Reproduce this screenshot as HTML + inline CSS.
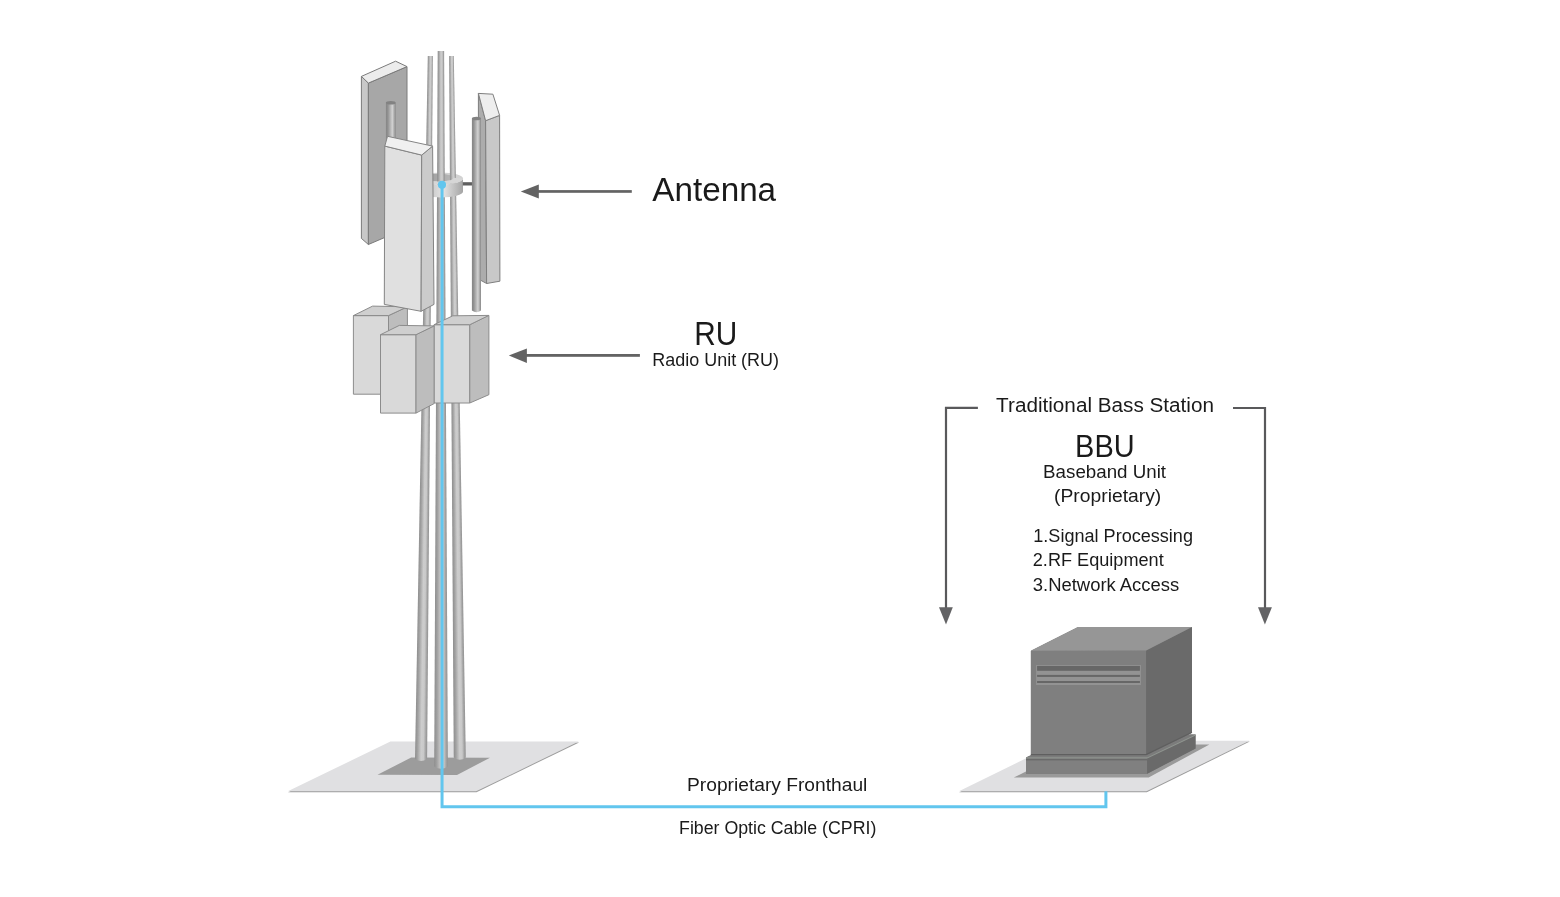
<!DOCTYPE html>
<html>
<head>
<meta charset="utf-8">
<style>
html,body{margin:0;padding:0;background:#fff;width:1560px;height:897px;overflow:hidden;}
svg{display:block;will-change:transform;}
text{font-family:"Liberation Sans",sans-serif;fill:#1a1a1a;}
</style>
</head>
<body>
<svg width="1560" height="897" viewBox="0 0 1560 897">
<defs>
  <linearGradient id="mast" x1="0" y1="0" x2="1" y2="0">
    <stop offset="0" stop-color="#8e8e8e"/>
    <stop offset="0.2" stop-color="#a2a2a2"/>
    <stop offset="0.5" stop-color="#cdcdcd"/>
    <stop offset="0.7" stop-color="#c9c9c9"/>
    <stop offset="0.88" stop-color="#a2a2a2"/>
    <stop offset="1" stop-color="#929292"/>
  </linearGradient>
  <linearGradient id="pole" x1="0" y1="0" x2="1" y2="0">
    <stop offset="0" stop-color="#858585"/>
    <stop offset="0.2" stop-color="#919191"/>
    <stop offset="0.66" stop-color="#d2d2d2"/>
    <stop offset="0.88" stop-color="#a2a2a2"/>
    <stop offset="1" stop-color="#898989"/>
  </linearGradient>
  <linearGradient id="ringside" x1="0" y1="0" x2="1" y2="0">
    <stop offset="0" stop-color="#b0b0b0"/>
    <stop offset="0.55" stop-color="#e4e4e4"/>
    <stop offset="1" stop-color="#a4a4a4"/>
  </linearGradient>
  <linearGradient id="ringhole" x1="0" y1="0" x2="1" y2="0">
    <stop offset="0" stop-color="#9a9a9a"/>
    <stop offset="1" stop-color="#b8b8b8"/>
  </linearGradient>
  <filter id="soft2" x="-5%" y="-20%" width="110%" height="140%"><feGaussianBlur stdDeviation="0.5"/></filter>
  <filter id="soft" x="-5%" y="-20%" width="110%" height="140%"><feGaussianBlur stdDeviation="0.6"/></filter>
</defs>

<!-- platforms -->
<polygon points="287.8,791.3 390.4,741.5 578.8,741.5 476.2,791.3" fill="#9c9c9c" transform="translate(0.3,0.9)" filter="url(#soft2)"/>
<polygon points="287.8,791.3 390.4,741.5 578.8,741.5 476.2,791.3" fill="#e0e0e2"/>
<polygon points="377.5,774.8 411.2,757.5 490,757.7 457,775" fill="#9c9c9c" filter="url(#soft)"/>

<polygon points="958.9,791.3 1062,740.7 1249.5,740.7 1146.5,791.3" fill="#9c9c9c" transform="translate(0.3,0.9)" filter="url(#soft2)"/>
<polygon points="958.9,791.3 1062,740.7 1249.5,740.7 1146.5,791.3" fill="#e0e0e2"/>

<!-- ring back (top face + hole) -->
<ellipse cx="441" cy="178.5" rx="22" ry="6" fill="#d2d2d2"/>
<ellipse cx="438.5" cy="177.7" rx="15" ry="3.9" fill="url(#ringhole)"/>
<!-- masts -->
<g fill="url(#mast)">
<polygon points="427.80,56 432.90,56 432.83,64 427.65,64"/>
<polygon points="427.65,64 432.83,64 432.77,72 427.51,72"/>
<polygon points="427.51,72 432.77,72 432.70,80 427.36,80"/>
<polygon points="427.36,80 432.70,80 432.64,88 427.22,88"/>
<polygon points="427.22,88 432.64,88 432.57,96 427.07,96"/>
<polygon points="427.07,96 432.57,96 432.50,104 426.93,104"/>
<polygon points="426.93,104 432.50,104 432.44,112 426.78,112"/>
<polygon points="426.78,112 432.44,112 432.37,120 426.63,120"/>
<polygon points="426.63,120 432.37,120 432.31,128 426.49,128"/>
<polygon points="426.49,128 432.31,128 432.24,136 426.34,136"/>
<polygon points="426.34,136 432.24,136 432.17,144 426.20,144"/>
<polygon points="426.20,144 432.17,144 432.11,152 426.05,152"/>
<polygon points="426.05,152 432.11,152 432.04,160 425.91,160"/>
<polygon points="425.91,160 432.04,160 431.98,168 425.76,168"/>
<polygon points="425.76,168 431.98,168 431.91,176 425.62,176"/>
<polygon points="425.62,176 431.91,176 431.84,184 425.47,184"/>
<polygon points="425.47,184 431.84,184 431.78,192 425.32,192"/>
<polygon points="425.32,192 431.78,192 431.71,200 425.18,200"/>
<polygon points="425.18,200 431.71,200 431.65,208 425.03,208"/>
<polygon points="425.03,208 431.65,208 431.58,216 424.89,216"/>
<polygon points="424.89,216 431.58,216 431.51,224 424.74,224"/>
<polygon points="424.74,224 431.51,224 431.45,232 424.60,232"/>
<polygon points="424.60,232 431.45,232 431.38,240 424.45,240"/>
<polygon points="424.45,240 431.38,240 431.32,248 424.30,248"/>
<polygon points="424.30,248 431.32,248 431.25,256 424.16,256"/>
<polygon points="424.16,256 431.25,256 431.18,264 424.01,264"/>
<polygon points="424.01,264 431.18,264 431.12,272 423.87,272"/>
<polygon points="423.87,272 431.12,272 431.05,280 423.72,280"/>
<polygon points="423.72,280 431.05,280 430.99,288 423.58,288"/>
<polygon points="423.58,288 430.99,288 430.92,296 423.43,296"/>
<polygon points="423.43,296 430.92,296 430.85,304 423.28,304"/>
<polygon points="423.28,304 430.85,304 430.79,312 423.14,312"/>
<polygon points="423.14,312 430.79,312 430.72,320 422.99,320"/>
<polygon points="422.99,320 430.72,320 430.66,328 422.85,328"/>
<polygon points="422.85,328 430.66,328 430.59,336 422.70,336"/>
<polygon points="422.70,336 430.59,336 430.52,344 422.56,344"/>
<polygon points="422.56,344 430.52,344 430.46,352 422.41,352"/>
<polygon points="422.41,352 430.46,352 430.39,360 422.26,360"/>
<polygon points="422.26,360 430.39,360 430.33,368 422.12,368"/>
<polygon points="422.12,368 430.33,368 430.26,376 421.97,376"/>
<polygon points="421.97,376 430.26,376 430.19,384 421.83,384"/>
<polygon points="421.83,384 430.19,384 430.13,392 421.68,392"/>
<polygon points="421.68,392 430.13,392 430.06,400 421.54,400"/>
<polygon points="421.54,400 430.06,400 430.00,408 421.39,408"/>
<polygon points="421.39,408 430.00,408 429.93,416 421.25,416"/>
<polygon points="421.25,416 429.93,416 429.86,424 421.10,424"/>
<polygon points="421.10,424 429.86,424 429.80,432 420.95,432"/>
<polygon points="420.95,432 429.80,432 429.73,440 420.81,440"/>
<polygon points="420.81,440 429.73,440 429.67,448 420.66,448"/>
<polygon points="420.66,448 429.67,448 429.60,456 420.52,456"/>
<polygon points="420.52,456 429.60,456 429.53,464 420.37,464"/>
<polygon points="420.37,464 429.53,464 429.47,472 420.23,472"/>
<polygon points="420.23,472 429.47,472 429.40,480 420.08,480"/>
<polygon points="420.08,480 429.40,480 429.34,488 419.93,488"/>
<polygon points="419.93,488 429.34,488 429.27,496 419.79,496"/>
<polygon points="419.79,496 429.27,496 429.20,504 419.64,504"/>
<polygon points="419.64,504 429.20,504 429.14,512 419.50,512"/>
<polygon points="419.50,512 429.14,512 429.07,520 419.35,520"/>
<polygon points="419.35,520 429.07,520 429.01,528 419.21,528"/>
<polygon points="419.21,528 429.01,528 428.94,536 419.06,536"/>
<polygon points="419.06,536 428.94,536 428.87,544 418.91,544"/>
<polygon points="418.91,544 428.87,544 428.81,552 418.77,552"/>
<polygon points="418.77,552 428.81,552 428.74,560 418.62,560"/>
<polygon points="418.62,560 428.74,560 428.68,568 418.48,568"/>
<polygon points="418.48,568 428.68,568 428.61,576 418.33,576"/>
<polygon points="418.33,576 428.61,576 428.54,584 418.19,584"/>
<polygon points="418.19,584 428.54,584 428.48,592 418.04,592"/>
<polygon points="418.04,592 428.48,592 428.41,600 417.90,600"/>
<polygon points="417.90,600 428.41,600 428.35,608 417.75,608"/>
<polygon points="417.75,608 428.35,608 428.28,616 417.60,616"/>
<polygon points="417.60,616 428.28,616 428.21,624 417.46,624"/>
<polygon points="417.46,624 428.21,624 428.15,632 417.31,632"/>
<polygon points="417.31,632 428.15,632 428.08,640 417.17,640"/>
<polygon points="417.17,640 428.08,640 428.02,648 417.02,648"/>
<polygon points="417.02,648 428.02,648 427.95,656 416.88,656"/>
<polygon points="416.88,656 427.95,656 427.88,664 416.73,664"/>
<polygon points="416.73,664 427.88,664 427.82,672 416.58,672"/>
<polygon points="416.58,672 427.82,672 427.75,680 416.44,680"/>
<polygon points="416.44,680 427.75,680 427.69,688 416.29,688"/>
<polygon points="416.29,688 427.69,688 427.62,696 416.15,696"/>
<polygon points="416.15,696 427.62,696 427.55,704 416.00,704"/>
<polygon points="416.00,704 427.55,704 427.49,712 415.86,712"/>
<polygon points="415.86,712 427.49,712 427.42,720 415.71,720"/>
<polygon points="415.71,720 427.42,720 427.36,728 415.56,728"/>
<polygon points="415.56,728 427.36,728 427.29,736 415.42,736"/>
<polygon points="415.42,736 427.29,736 427.22,744 415.27,744"/>
<polygon points="415.27,744 427.22,744 427.16,752 415.13,752"/>
<path d="M415.13,752 L427.16,752 L427.10,759 Q421.05,763.00 415.00,759 Z"/>
<polygon points="437.70,51 444.10,51 444.13,56 437.68,56"/>
<polygon points="437.68,56 444.13,56 444.17,64 437.64,64"/>
<polygon points="437.64,64 444.17,64 444.21,72 437.60,72"/>
<polygon points="437.60,72 444.21,72 444.25,80 437.56,80"/>
<polygon points="437.56,80 444.25,80 444.30,88 437.52,88"/>
<polygon points="437.52,88 444.30,88 444.34,96 437.48,96"/>
<polygon points="437.48,96 444.34,96 444.38,104 437.44,104"/>
<polygon points="437.44,104 444.38,104 444.42,112 437.40,112"/>
<polygon points="437.40,112 444.42,112 444.47,120 437.36,120"/>
<polygon points="437.36,120 444.47,120 444.51,128 437.32,128"/>
<polygon points="437.32,128 444.51,128 444.55,136 437.28,136"/>
<polygon points="437.28,136 444.55,136 444.59,144 437.25,144"/>
<polygon points="437.25,144 444.59,144 444.64,152 437.21,152"/>
<polygon points="437.21,152 444.64,152 444.68,160 437.17,160"/>
<polygon points="437.17,160 444.68,160 444.72,168 437.13,168"/>
<polygon points="437.13,168 444.72,168 444.76,176 437.09,176"/>
<polygon points="437.09,176 444.76,176 444.81,184 437.05,184"/>
<polygon points="437.05,184 444.81,184 444.85,192 437.01,192"/>
<polygon points="437.01,192 444.85,192 444.89,200 436.97,200"/>
<polygon points="436.97,200 444.89,200 444.93,208 436.93,208"/>
<polygon points="436.93,208 444.93,208 444.98,216 436.89,216"/>
<polygon points="436.89,216 444.98,216 445.02,224 436.85,224"/>
<polygon points="436.85,224 445.02,224 445.06,232 436.81,232"/>
<polygon points="436.81,232 445.06,232 445.10,240 436.78,240"/>
<polygon points="436.78,240 445.10,240 445.15,248 436.74,248"/>
<polygon points="436.74,248 445.15,248 445.19,256 436.70,256"/>
<polygon points="436.70,256 445.19,256 445.23,264 436.66,264"/>
<polygon points="436.66,264 445.23,264 445.27,272 436.62,272"/>
<polygon points="436.62,272 445.27,272 445.32,280 436.58,280"/>
<polygon points="436.58,280 445.32,280 445.36,288 436.54,288"/>
<polygon points="436.54,288 445.36,288 445.40,296 436.50,296"/>
<polygon points="436.50,296 445.40,296 445.44,304 436.46,304"/>
<polygon points="436.46,304 445.44,304 445.49,312 436.42,312"/>
<polygon points="436.42,312 445.49,312 445.53,320 436.38,320"/>
<polygon points="436.38,320 445.53,320 445.57,328 436.35,328"/>
<polygon points="436.35,328 445.57,328 445.61,336 436.31,336"/>
<polygon points="436.31,336 445.61,336 445.66,344 436.27,344"/>
<polygon points="436.27,344 445.66,344 445.70,352 436.23,352"/>
<polygon points="436.23,352 445.70,352 445.74,360 436.19,360"/>
<polygon points="436.19,360 445.74,360 445.78,368 436.15,368"/>
<polygon points="436.15,368 445.78,368 445.83,376 436.11,376"/>
<polygon points="436.11,376 445.83,376 445.87,384 436.07,384"/>
<polygon points="436.07,384 445.87,384 445.91,392 436.03,392"/>
<polygon points="436.03,392 445.91,392 445.95,400 435.99,400"/>
<polygon points="435.99,400 445.95,400 446.00,408 435.95,408"/>
<polygon points="435.95,408 446.00,408 446.04,416 435.91,416"/>
<polygon points="435.91,416 446.04,416 446.08,424 435.88,424"/>
<polygon points="435.88,424 446.08,424 446.12,432 435.84,432"/>
<polygon points="435.84,432 446.12,432 446.17,440 435.80,440"/>
<polygon points="435.80,440 446.17,440 446.21,448 435.76,448"/>
<polygon points="435.76,448 446.21,448 446.25,456 435.72,456"/>
<polygon points="435.72,456 446.25,456 446.29,464 435.68,464"/>
<polygon points="435.68,464 446.29,464 446.34,472 435.64,472"/>
<polygon points="435.64,472 446.34,472 446.38,480 435.60,480"/>
<polygon points="435.60,480 446.38,480 446.42,488 435.56,488"/>
<polygon points="435.56,488 446.42,488 446.46,496 435.52,496"/>
<polygon points="435.52,496 446.46,496 446.51,504 435.48,504"/>
<polygon points="435.48,504 446.51,504 446.55,512 435.44,512"/>
<polygon points="435.44,512 446.55,512 446.59,520 435.41,520"/>
<polygon points="435.41,520 446.59,520 446.63,528 435.37,528"/>
<polygon points="435.37,528 446.63,528 446.68,536 435.33,536"/>
<polygon points="435.33,536 446.68,536 446.72,544 435.29,544"/>
<polygon points="435.29,544 446.72,544 446.76,552 435.25,552"/>
<polygon points="435.25,552 446.76,552 446.80,560 435.21,560"/>
<polygon points="435.21,560 446.80,560 446.85,568 435.17,568"/>
<polygon points="435.17,568 446.85,568 446.89,576 435.13,576"/>
<polygon points="435.13,576 446.89,576 446.93,584 435.09,584"/>
<polygon points="435.09,584 446.93,584 446.97,592 435.05,592"/>
<polygon points="435.05,592 446.97,592 447.02,600 435.01,600"/>
<polygon points="435.01,600 447.02,600 447.06,608 434.98,608"/>
<polygon points="434.98,608 447.06,608 447.10,616 434.94,616"/>
<polygon points="434.94,616 447.10,616 447.14,624 434.90,624"/>
<polygon points="434.90,624 447.14,624 447.19,632 434.86,632"/>
<polygon points="434.86,632 447.19,632 447.23,640 434.82,640"/>
<polygon points="434.82,640 447.23,640 447.27,648 434.78,648"/>
<polygon points="434.78,648 447.27,648 447.31,656 434.74,656"/>
<polygon points="434.74,656 447.31,656 447.36,664 434.70,664"/>
<polygon points="434.70,664 447.36,664 447.40,672 434.66,672"/>
<polygon points="434.66,672 447.40,672 447.44,680 434.62,680"/>
<polygon points="434.62,680 447.44,680 447.48,688 434.58,688"/>
<polygon points="434.58,688 447.48,688 447.53,696 434.54,696"/>
<polygon points="434.54,696 447.53,696 447.57,704 434.51,704"/>
<polygon points="434.51,704 447.57,704 447.61,712 434.47,712"/>
<polygon points="434.47,712 447.61,712 447.65,720 434.43,720"/>
<polygon points="434.43,720 447.65,720 447.70,728 434.39,728"/>
<polygon points="434.39,728 447.70,728 447.74,736 434.35,736"/>
<polygon points="434.35,736 447.74,736 447.78,744 434.31,744"/>
<polygon points="434.31,744 447.78,744 447.82,752 434.27,752"/>
<polygon points="434.27,752 447.82,752 447.87,760 434.23,760"/>
<path d="M434.23,760 L447.87,760 L447.90,766.5 Q441.05,771.00 434.20,766.5 Z"/>
<polygon points="449.10,56 453.80,56 453.94,64 449.15,64"/>
<polygon points="449.15,64 453.94,64 454.07,72 449.21,72"/>
<polygon points="449.21,72 454.07,72 454.21,80 449.26,80"/>
<polygon points="449.26,80 454.21,80 454.35,88 449.31,88"/>
<polygon points="449.31,88 454.35,88 454.48,96 449.37,96"/>
<polygon points="449.37,96 454.48,96 454.62,104 449.42,104"/>
<polygon points="449.42,104 454.62,104 454.76,112 449.47,112"/>
<polygon points="449.47,112 454.76,112 454.89,120 449.52,120"/>
<polygon points="449.52,120 454.89,120 455.03,128 449.58,128"/>
<polygon points="449.58,128 455.03,128 455.17,136 449.63,136"/>
<polygon points="449.63,136 455.17,136 455.31,144 449.68,144"/>
<polygon points="449.68,144 455.31,144 455.44,152 449.74,152"/>
<polygon points="449.74,152 455.44,152 455.58,160 449.79,160"/>
<polygon points="449.79,160 455.58,160 455.72,168 449.84,168"/>
<polygon points="449.84,168 455.72,168 455.85,176 449.90,176"/>
<polygon points="449.90,176 455.85,176 455.99,184 449.95,184"/>
<polygon points="449.95,184 455.99,184 456.13,192 450.00,192"/>
<polygon points="450.00,192 456.13,192 456.26,200 450.05,200"/>
<polygon points="450.05,200 456.26,200 456.40,208 450.11,208"/>
<polygon points="450.11,208 456.40,208 456.54,216 450.16,216"/>
<polygon points="450.16,216 456.54,216 456.67,224 450.21,224"/>
<polygon points="450.21,224 456.67,224 456.81,232 450.27,232"/>
<polygon points="450.27,232 456.81,232 456.95,240 450.32,240"/>
<polygon points="450.32,240 456.95,240 457.08,248 450.37,248"/>
<polygon points="450.37,248 457.08,248 457.22,256 450.43,256"/>
<polygon points="450.43,256 457.22,256 457.36,264 450.48,264"/>
<polygon points="450.48,264 457.36,264 457.49,272 450.53,272"/>
<polygon points="450.53,272 457.49,272 457.63,280 450.58,280"/>
<polygon points="450.58,280 457.63,280 457.77,288 450.64,288"/>
<polygon points="450.64,288 457.77,288 457.91,296 450.69,296"/>
<polygon points="450.69,296 457.91,296 458.04,304 450.74,304"/>
<polygon points="450.74,304 458.04,304 458.18,312 450.80,312"/>
<polygon points="450.80,312 458.18,312 458.32,320 450.85,320"/>
<polygon points="450.85,320 458.32,320 458.45,328 450.90,328"/>
<polygon points="450.90,328 458.45,328 458.59,336 450.96,336"/>
<polygon points="450.96,336 458.59,336 458.73,344 451.01,344"/>
<polygon points="451.01,344 458.73,344 458.86,352 451.06,352"/>
<polygon points="451.06,352 458.86,352 459.00,360 451.12,360"/>
<polygon points="451.12,360 459.00,360 459.14,368 451.17,368"/>
<polygon points="451.17,368 459.14,368 459.27,376 451.22,376"/>
<polygon points="451.22,376 459.27,376 459.41,384 451.27,384"/>
<polygon points="451.27,384 459.41,384 459.55,392 451.33,392"/>
<polygon points="451.33,392 459.55,392 459.68,400 451.38,400"/>
<polygon points="451.38,400 459.68,400 459.82,408 451.43,408"/>
<polygon points="451.43,408 459.82,408 459.96,416 451.49,416"/>
<polygon points="451.49,416 459.96,416 460.10,424 451.54,424"/>
<polygon points="451.54,424 460.10,424 460.23,432 451.59,432"/>
<polygon points="451.59,432 460.23,432 460.37,440 451.65,440"/>
<polygon points="451.65,440 460.37,440 460.51,448 451.70,448"/>
<polygon points="451.70,448 460.51,448 460.64,456 451.75,456"/>
<polygon points="451.75,456 460.64,456 460.78,464 451.80,464"/>
<polygon points="451.80,464 460.78,464 460.92,472 451.86,472"/>
<polygon points="451.86,472 460.92,472 461.05,480 451.91,480"/>
<polygon points="451.91,480 461.05,480 461.19,488 451.96,488"/>
<polygon points="451.96,488 461.19,488 461.33,496 452.02,496"/>
<polygon points="452.02,496 461.33,496 461.46,504 452.07,504"/>
<polygon points="452.07,504 461.46,504 461.60,512 452.12,512"/>
<polygon points="452.12,512 461.60,512 461.74,520 452.18,520"/>
<polygon points="452.18,520 461.74,520 461.87,528 452.23,528"/>
<polygon points="452.23,528 461.87,528 462.01,536 452.28,536"/>
<polygon points="452.28,536 462.01,536 462.15,544 452.33,544"/>
<polygon points="452.33,544 462.15,544 462.28,552 452.39,552"/>
<polygon points="452.39,552 462.28,552 462.42,560 452.44,560"/>
<polygon points="452.44,560 462.42,560 462.56,568 452.49,568"/>
<polygon points="452.49,568 462.56,568 462.70,576 452.55,576"/>
<polygon points="452.55,576 462.70,576 462.83,584 452.60,584"/>
<polygon points="452.60,584 462.83,584 462.97,592 452.65,592"/>
<polygon points="452.65,592 462.97,592 463.11,600 452.71,600"/>
<polygon points="452.71,600 463.11,600 463.24,608 452.76,608"/>
<polygon points="452.76,608 463.24,608 463.38,616 452.81,616"/>
<polygon points="452.81,616 463.38,616 463.52,624 452.87,624"/>
<polygon points="452.87,624 463.52,624 463.65,632 452.92,632"/>
<polygon points="452.92,632 463.65,632 463.79,640 452.97,640"/>
<polygon points="452.97,640 463.79,640 463.93,648 453.02,648"/>
<polygon points="453.02,648 463.93,648 464.06,656 453.08,656"/>
<polygon points="453.08,656 464.06,656 464.20,664 453.13,664"/>
<polygon points="453.13,664 464.20,664 464.34,672 453.18,672"/>
<polygon points="453.18,672 464.34,672 464.47,680 453.24,680"/>
<polygon points="453.24,680 464.47,680 464.61,688 453.29,688"/>
<polygon points="453.29,688 464.61,688 464.75,696 453.34,696"/>
<polygon points="453.34,696 464.75,696 464.88,704 453.40,704"/>
<polygon points="453.40,704 464.88,704 465.02,712 453.45,712"/>
<polygon points="453.45,712 465.02,712 465.16,720 453.50,720"/>
<polygon points="453.50,720 465.16,720 465.30,728 453.55,728"/>
<polygon points="453.55,728 465.30,728 465.43,736 453.61,736"/>
<polygon points="453.61,736 465.43,736 465.57,744 453.66,744"/>
<polygon points="453.66,744 465.57,744 465.71,752 453.71,752"/>
<path d="M453.71,752 L465.71,752 L465.80,757.5 Q459.77,762.00 453.75,757.5 Z"/>
</g>

<!-- ring front band -->
<path d="M419,178.5 A22,6 0 0 0 463,178.5 L463,191.5 A22,6 0 0 1 419,191.5 Z" fill="url(#ringside)"/>
<path d="M419,178.5 A22,6 0 0 0 463,178.5 L453.5,177.7 A15,3.9 0 0 1 423.5,177.7 Z" fill="#d6d6d6"/>
<!-- connector bar -->
<rect x="462.8" y="182.2" width="9.5" height="3.3" fill="#5f5f5f"/>

<!-- back-left antenna -->
<polygon points="361.4,76.4 368.4,83.1 368.4,244.5 361.4,238.4" fill="#c8c8c8" stroke="#7a7a7a" stroke-width="1" stroke-linejoin="round"/>
<polygon points="368.4,83.1 407,66.6 407,227.9 368.4,244.5" fill="#a7a7a7" stroke="#7a7a7a" stroke-width="1" stroke-linejoin="round"/>
<polygon points="361.4,76.4 395.6,61.2 407,66.6 368.4,83.1" fill="#ececec" stroke="#7a7a7a" stroke-width="1" stroke-linejoin="round"/>
<!-- small pole in back antenna -->
<rect x="385.9" y="102.7" width="9.8" height="40" fill="url(#pole)"/>
<ellipse cx="390.8" cy="102.7" rx="4.9" ry="1.8" fill="#828282"/>

<!-- right antenna -->
<polygon points="478.4,93.4 485.6,120.7 486.6,283.5 478.4,279" fill="#acacac" stroke="#7e7e7e" stroke-width="1" stroke-linejoin="round"/>
<polygon points="485.6,120.7 499.6,115.4 499.9,281.2 486.6,283.5" fill="#c8c8c8" stroke="#7e7e7e" stroke-width="1" stroke-linejoin="round"/>
<polygon points="478.4,93.4 492.9,94.2 499.6,115.4 485.6,120.7" fill="#eeeeee" stroke="#7e7e7e" stroke-width="1" stroke-linejoin="round"/>
<!-- right pole -->
<path d="M471.9,118.5 L481,118.5 L481,310.5 Q476.45,314 471.9,310.5 Z" fill="url(#pole)"/>
<ellipse cx="476.45" cy="118.5" rx="4.55" ry="1.8" fill="#828282"/>

<!-- RU box 1 -->
<polygon points="353.4,315.6 388.5,315.6 388.5,394.2 353.4,394.2" fill="#d9d9d9" stroke="#8c8c8c" stroke-width="1"/>
<polygon points="388.5,315.6 407.4,306.8 407.4,385.5 388.5,394.2" fill="#bdbdbd" stroke="#8c8c8c" stroke-width="1" stroke-linejoin="round"/>
<polygon points="353.4,315.6 372.6,306.1 407.4,306.8 388.5,315.6" fill="#cfcfcf" stroke="#8c8c8c" stroke-width="1" stroke-linejoin="round"/>
<!-- front antenna -->
<polygon points="384.8,146.1 421.7,155.1 421.1,311.3 384.3,304.4" fill="#e0e0e0" stroke="#848484" stroke-width="1" stroke-linejoin="round"/>
<polygon points="421.7,155.1 432.6,146.1 434,304.4 421.1,311.3" fill="#cbcbcb" stroke="#848484" stroke-width="1" stroke-linejoin="round"/>
<polygon points="387.5,136.3 432.6,146.1 421.7,155.1 384.8,146.1" fill="#f0f0f0" stroke="#848484" stroke-width="1" stroke-linejoin="round"/>

<!-- RU box 3 -->
<polygon points="434,324.7 469.8,324.7 469.8,403 434,403" fill="#d9d9d9" stroke="#8c8c8c" stroke-width="1"/>
<polygon points="469.8,324.7 488.9,315.4 488.9,394.7 469.8,403" fill="#bdbdbd" stroke="#8c8c8c" stroke-width="1" stroke-linejoin="round"/>
<polygon points="434,324.7 452.8,315.8 488.9,315.4 469.8,324.7" fill="#cfcfcf" stroke="#8c8c8c" stroke-width="1" stroke-linejoin="round"/>
<!-- RU box 2 -->
<polygon points="380.5,334.7 416,334.7 416,413.1 380.5,413.1" fill="#d9d9d9" stroke="#8c8c8c" stroke-width="1"/>
<polygon points="416,334.7 434.1,325.9 434.1,403.6 416,413.1" fill="#bdbdbd" stroke="#8c8c8c" stroke-width="1" stroke-linejoin="round"/>
<polygon points="380.5,334.7 399.3,325.4 434.1,325.9 416,334.7" fill="#cfcfcf" stroke="#8c8c8c" stroke-width="1" stroke-linejoin="round"/>

<!-- fiber -->
<polyline points="442.05,185 442.05,806.8 1105.9,806.8 1105.9,791.3" fill="none" stroke="#62c6ee" stroke-width="3"/>
<circle cx="441.95" cy="184.8" r="4.1" fill="#62c6ee"/>

<!-- BBU -->
<polygon points="1013.8,777.5 1080,744.4 1209.4,744.4 1148.7,777.5" fill="#9a9a9a" filter="url(#soft)"/>
<polygon points="1026,757.4 1075,734.4 1195.5,734.4 1195.5,748.4 1147.1,773.8 1026,773.8" fill="#747474"/>
<polygon points="1026,757.4 1147.1,757.4 1147.1,773.8 1026,773.8" fill="#808080"/>
<polygon points="1147.1,757.4 1195.5,734.4 1195.5,748.4 1147.1,773.8" fill="#6a6a6a"/>
<polygon points="1026,757.4 1075,734.4 1195.5,734.4 1147.1,757.4" fill="#7b7b7b"/>
<rect x="1026" y="758.5" width="121.1" height="1.9" fill="#6a6a6a"/>
<polyline points="1026,757.9 1147.1,757.9 1195.5,734.9" fill="none" stroke="#8f948f" stroke-width="1.1"/>
<polygon points="1030.9,650.8 1078,627.1 1192,627 1192,732.7 1146.1,755.1 1030.9,755.1" fill="#7a7a7a"/>
<polygon points="1030.9,650.8 1146.1,650.6 1146.1,755.1 1030.9,755.1" fill="#7f7f7f"/>
<polygon points="1146.1,650.6 1192,627 1192,732.7 1146.1,755.1" fill="#6a6a6a"/>
<polygon points="1030.9,650.8 1078,627.1 1192,627 1146.1,650.6" fill="#969696"/>
<polyline points="1030.9,754.6 1146.1,754.6 1192,732.2" fill="none" stroke="#5f5f5f" stroke-width="1.1"/>
<rect x="1036.1" y="665" width="104.8" height="20" fill="#939393"/>
<rect x="1037.1" y="665.9" width="102.8" height="4.9" fill="#676767"/>
<rect x="1037.1" y="674.9" width="102.8" height="2" fill="#676767"/>
<rect x="1037.1" y="681" width="102.8" height="2" fill="#676767"/>

<!-- arrows -->
<g fill="#636363">
<polygon points="520.8,191.5 538.8,184.6 538.8,198.6"/>
<rect x="538" y="190.1" width="93.8" height="2.7"/>
<polygon points="508.8,355.4 526.9,348.5 526.9,362.9"/>
<rect x="526" y="354" width="113.9" height="2.8"/>
</g>
<g fill="none" stroke="#59595b" stroke-width="2.2">
<polyline points="977.9,407.9 946,407.9 946,608"/>
<polyline points="1233,408 1265,408 1265,608"/>
</g>
<g fill="#636365">
<polygon points="939,607.3 952.8,607.3 946,624.4"/>
<polygon points="1258,607.3 1271.9,607.3 1264.9,624.4"/>
</g>

<!-- texts -->
<text x="652.27" y="200.9" font-size="33.2" textLength="123.86" lengthAdjust="spacingAndGlyphs">Antenna</text>
<text x="694.33" y="344.8" font-size="33.2" textLength="43.04" lengthAdjust="spacingAndGlyphs">RU</text>
<text x="652.25" y="365.8" font-size="18.7" textLength="126.79" lengthAdjust="spacingAndGlyphs">Radio Unit (RU)</text>
<text x="996.11" y="411.8" font-size="20.75" textLength="217.88" lengthAdjust="spacingAndGlyphs">Traditional Bass Station</text>
<text x="1075.11" y="456.9" font-size="30.6" textLength="59.54" lengthAdjust="spacingAndGlyphs">BBU</text>
<text x="1043.10" y="478" font-size="18.7" textLength="122.99" lengthAdjust="spacingAndGlyphs">Baseband Unit</text>
<text x="1054.08" y="502" font-size="18.7" textLength="107.14" lengthAdjust="spacingAndGlyphs">(Proprietary)</text>
<text x="1033.30" y="541.9" font-size="18.7" textLength="159.67" lengthAdjust="spacingAndGlyphs">1.Signal Processing</text>
<text x="1032.80" y="565.9" font-size="18.7" textLength="130.93" lengthAdjust="spacingAndGlyphs">2.RF Equipment</text>
<text x="1032.80" y="590.6" font-size="18.7" textLength="146.42" lengthAdjust="spacingAndGlyphs">3.Network Access</text>
<text x="687.03" y="790.9" font-size="18.7" textLength="180.35" lengthAdjust="spacingAndGlyphs">Proprietary Fronthaul</text>
<text x="679.05" y="833.7" font-size="18.7" textLength="197.30" lengthAdjust="spacingAndGlyphs">Fiber Optic Cable (CPRI)</text>
</svg>
</body>
</html>
